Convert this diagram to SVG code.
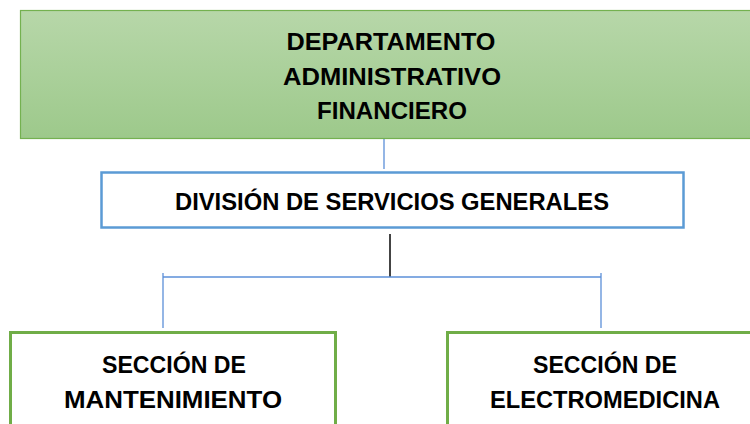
<svg xmlns="http://www.w3.org/2000/svg" width="750" height="424" viewBox="0 0 750 424">
<defs>
<linearGradient id="g" x1="0" y1="0" x2="0" y2="1">
<stop offset="0" stop-color="#b7d7a9"/>
<stop offset="1" stop-color="#9dc98b"/>
</linearGradient>
<style>
.t{font-family:"Liberation Sans",Arial,sans-serif;font-weight:bold;font-size:24px;fill:#000;text-anchor:middle}
.gb{fill:#fff;stroke:#70ad47;stroke-width:3}
.bl{stroke:#5b8fd8;stroke-width:1.3;fill:none}
</style>
</defs>
<g id="connectors">
<line class="bl" x1="384" y1="139" x2="384" y2="169"/>
<line x1="390" y1="234" x2="390" y2="277" stroke="#444" stroke-width="2"/>
<line class="bl" x1="163" y1="277" x2="601" y2="277"/>
<line class="bl" x1="163" y1="273" x2="163" y2="328"/>
<line class="bl" x1="601" y1="273" x2="601" y2="328"/>
</g>
<g id="departamento">
<rect x="20.5" y="10.5" width="745" height="128" fill="url(#g)" stroke="#74b150" stroke-width="1.2"/>
<text class="t" x="391" y="50" textLength="209" lengthAdjust="spacingAndGlyphs">DEPARTAMENTO</text>
<text class="t" x="392" y="85" textLength="218" lengthAdjust="spacingAndGlyphs">ADMINISTRATIVO</text>
<text class="t" x="392" y="119" textLength="150" lengthAdjust="spacingAndGlyphs">FINANCIERO</text>
</g>
<g id="division">
<rect x="101.5" y="172.5" width="582" height="55" fill="#fff" stroke="#5b9bd5" stroke-width="2.5"/>
<text class="t" x="392" y="210" textLength="434" lengthAdjust="spacingAndGlyphs">DIVISIÓN DE SERVICIOS GENERALES</text>
</g>
<g id="mantenimiento">
<rect class="gb" x="10.5" y="332.5" width="325" height="100"/>
<text class="t" x="174" y="373" textLength="144" lengthAdjust="spacingAndGlyphs">SECCIÓN DE</text>
<text class="t" x="173" y="408" textLength="218" lengthAdjust="spacingAndGlyphs">MANTENIMIENTO</text>
</g>
<g id="electromedicina">
<rect class="gb" x="447.5" y="332.5" width="320" height="100"/>
<text class="t" x="605" y="373" textLength="144" lengthAdjust="spacingAndGlyphs">SECCIÓN DE</text>
<text class="t" x="605" y="408" textLength="230" lengthAdjust="spacingAndGlyphs">ELECTROMEDICINA</text>
</g>
</svg>
